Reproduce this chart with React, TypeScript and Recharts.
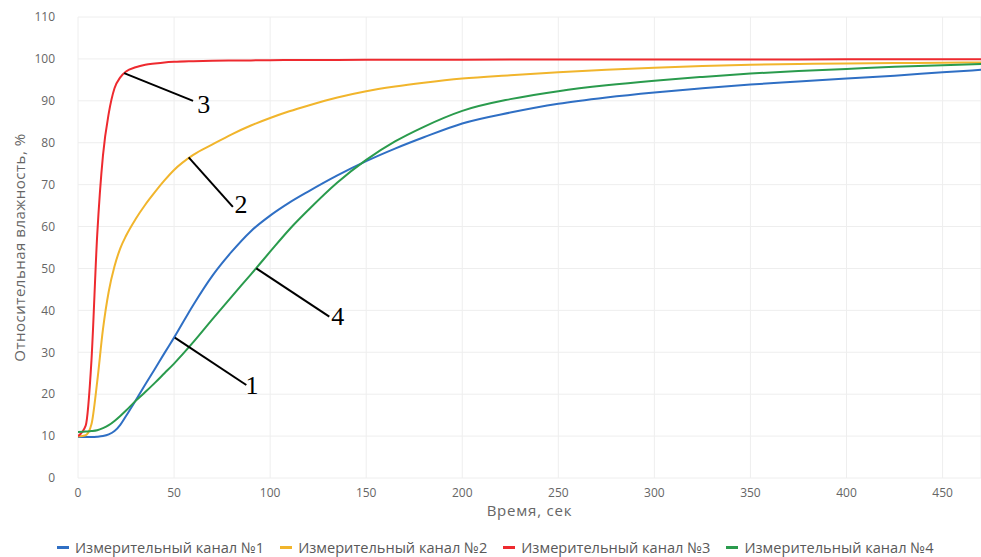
import React from "react";
import {
  LineChart,
  Line,
  XAxis,
  YAxis,
  CartesianGrid,
  ReferenceLine,
  ReferenceDot,
} from "recharts";

// Time points, seconds
const timeSec = [
  0, 4, 7, 10, 13, 16, 19, 22, 25, 30, 35, 40, 45, 50, 60, 70, 80, 90, 100, 110,
  120, 135, 150, 165, 180, 200, 225, 250, 275, 300, 325, 350, 375, 400, 425, 450, 470,
];

// Relative humidity, %, per measuring channel
const channel1 = [
  9.8, 9.8, 9.8, 9.85, 10, 10.4, 11.2, 12.7, 14.8, 18.5, 22.3, 26, 29.8, 33.5, 41.3,
  48.3, 54, 58.9, 62.6, 65.7, 68.4, 72.2, 75.6, 78.6, 81.3, 84.6, 87.2, 89.3, 90.8,
  92, 93, 93.9, 94.6, 95.3, 96, 96.8, 97.4,
];
const channel2 = [
  9.9, 10.2, 12.8, 23, 35.5, 44.5, 50.5, 54.8, 57.8, 61.8, 65.2, 68.2, 71, 73.5, 77.1,
  79.6, 82, 84.1, 85.9, 87.5, 88.9, 90.8, 92.3, 93.4, 94.3, 95.3, 96.1, 96.8, 97.4,
  97.9, 98.3, 98.6, 98.8, 98.9, 99.0, 99.1, 99.15,
];
const channel3 = [
  10, 12.5, 28, 58, 77, 87, 93, 95.6, 97, 98, 98.6, 98.9, 99.15, 99.3, 99.45, 99.55,
  99.6, 99.65, 99.7, 99.72, 99.74, 99.76, 99.78, 99.8, 99.8, 99.82, 99.83, 99.84,
  99.85, 99.86, 99.87, 99.88, 99.88, 99.89, 99.9, 99.9, 99.9,
];
const channel4 = [
  11, 11.1, 11.2, 11.4, 11.9, 12.6, 13.6, 14.8, 16.1, 18.4, 20.5, 22.7, 25, 27.3,
  32.4, 37.9, 43.3, 48.6, 54, 59.3, 64, 70.5, 75.9, 80.3, 83.8, 87.6, 90.4, 92.3,
  93.7, 94.8, 95.7, 96.5, 97.1, 97.6, 98.1, 98.5, 98.8,
];

const xTicks = [0, 50, 100, 150, 200, 250, 300, 350, 400, 450];
const yTicks = [0, 10, 20, 30, 40, 50, 60, 70, 80, 90, 100, 110];

const seriesNames = [
  "Измерительный канал №1",
  "Измерительный канал №2",
  "Измерительный канал №3",
  "Измерительный канал №4",
];
const seriesKeys = ["ch1", "ch2", "ch3", "ch4"];
const seriesColors = ["#2f6fc4", "#f1b52c", "#ee2a2f", "#2a9b4d"];

// Leader lines with curve numbers: start point on the curve, end point, label
const callouts = [
  { num: "1", from: [50.4, 33.5], to: [87.6, 22.2], label: [90.6, 22.2] },
  { num: "2", from: [57.6, 76.5], to: [80.6, 64.7], label: [84.9, 65.4] },
  { num: "3", from: [24.0, 96.6], to: [59.9, 90.0], label: [65.4, 89.2] },
  { num: "4", from: [92.8, 50.0], to: [130.8, 38.5], label: [135.2, 38.7] },
];

const data = timeSec.map((t, i) => ({
  t,
  ch1: channel1[i],
  ch2: channel2[i],
  ch3: channel3[i],
  ch4: channel4[i],
}));

const FONT = "'Open Sans', sans-serif";
const TEXT_COLOR = "#666666";

const YTitle = (props: any) => {
  const { viewBox } = props;
  const cx = viewBox.x + 19;
  const cy = viewBox.y + viewBox.height / 2;
  return (
    <text
      x={cx}
      y={cy}
      transform={`rotate(-90, ${cx}, ${cy})`}
      textAnchor="middle"
      dominantBaseline="central"
      fontFamily={FONT}
      fontSize={15}
      letterSpacing={0.5}
      fill={TEXT_COLOR}
    >
      Относительная влажность, %
    </text>
  );
};

const XTitle = (props: any) => {
  const { viewBox } = props;
  return (
    <text
      x={viewBox.x + viewBox.width / 2}
      y={viewBox.y + 38}
      textAnchor="middle"
      fontFamily={FONT}
      fontSize={15}
      letterSpacing={0.8}
      fill={TEXT_COLOR}
    >
      Время, сек
    </text>
  );
};

const CalloutNumber = (text: string) => (props: any) => (
  <text
    x={props.cx}
    y={props.cy + 9}
    textAnchor="middle"
    fontFamily="'Liberation Serif', 'Times New Roman', serif"
    fontSize={26}
    fill="#000"
  >
    {text}
  </text>
);

export default function App() {
  return (
    <div
      style={{
        position: "absolute",
        left: 0,
        top: 0,
        width: 981,
        height: 557,
        background: "#ffffff",
        overflow: "hidden",
      }}
    >
      <LineChart
        width={981}
        height={557}
        data={data}
        margin={{ top: 17, right: 0, bottom: 0, left: 0 }}
      >
        <CartesianGrid stroke="#eeeeee" strokeWidth={1} />
        <XAxis
          dataKey="t"
          type="number"
          domain={[0, 470]}
          ticks={xTicks}
          allowDataOverflow
          axisLine={false}
          tickLine={false}
          tickSize={0}
          tickMargin={10}
          height={79}
          tick={{ fontFamily: FONT, fontSize: 12, fill: TEXT_COLOR }}
          label={<XTitle />}
        />
        <YAxis
          type="number"
          domain={[0, 110]}
          ticks={yTicks}
          allowDataOverflow
          axisLine={false}
          tickLine={false}
          tickSize={0}
          tickMargin={23}
          width={78}
          tick={{ fontFamily: FONT, fontSize: 12, fill: TEXT_COLOR }}
          label={<YTitle />}
        />
        {seriesKeys.map((k, i) => (
          <Line
            key={k}
            dataKey={k}
            name={seriesNames[i]}
            type="monotone"
            stroke={seriesColors[i]}
            strokeWidth={2}
            dot={false}
            activeDot={false}
            isAnimationActive={false}
          />
        ))}
        {callouts.map((c) => (
          <ReferenceLine
            key={`l${c.num}`}
            segment={[
              { x: c.from[0], y: c.from[1] },
              { x: c.to[0], y: c.to[1] },
            ]}
            stroke="#000"
            strokeWidth={2}
          />
        ))}
        {callouts.map((c) => (
          <ReferenceDot
            key={`n${c.num}`}
            x={c.label[0]}
            y={c.label[1]}
            r={0}
            shape={CalloutNumber(c.num)}
          />
        ))}
      </LineChart>
      <div
        style={{
          position: "absolute",
          left: 57,
          top: 537,
          display: "flex",
          alignItems: "center",
          gap: 16,
          fontFamily: FONT,
          fontSize: 14.6,
          color: "#595959",
          whiteSpace: "nowrap",
        }}
      >
        {seriesNames.map((n, i) => (
          <div key={n} style={{ display: "flex", alignItems: "center" }}>
            <span
              style={{
                display: "inline-block",
                width: 12,
                height: 3,
                background: seriesColors[i],
                marginRight: 6,
              }}
            />
            <span>{n}</span>
          </div>
        ))}
      </div>
    </div>
  );
}
